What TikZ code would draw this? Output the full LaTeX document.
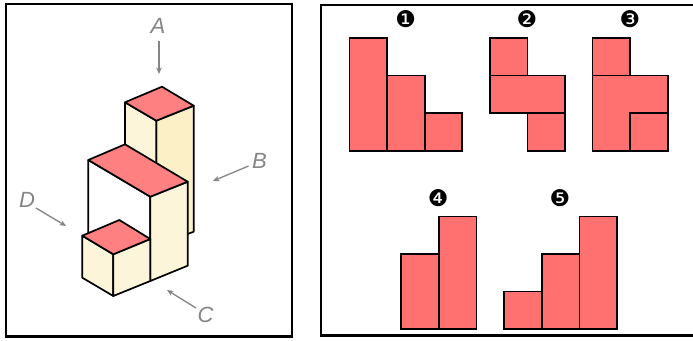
\documentclass[tikz,border=0pt]{standalone}
\usepackage{fontspec}
\setsansfont{Liberation Sans}
\newfontfamily\circfont{DejaVu Sans}
\usetikzlibrary{arrows.meta}
\definecolor{topred}{HTML}{FF8080}
\definecolor{flatred}{HTML}{FF7070}
\definecolor{sidelight}{HTML}{FDF5D9}
\definecolor{sidedark}{HTML}{FBF0C6}
\definecolor{arrowgray}{HTML}{858585}
\tikzset{
  framebox/.style={draw=black,line width=2.2pt,fill=white},
  topface/.style={draw=black,line width=1.7pt,line join=round,fill=topred},
  lightface/.style={draw=black,line width=1.7pt,line join=round,fill=sidelight},
  darkface/.style={draw=black,line width=1.7pt,line join=round,fill=sidedark},
  blankface/.style={draw=black,line width=1.7pt,line join=round,fill=white},
  flat/.style={draw=black,line width=1.6pt,line join=miter,fill=flatred},
  viewarrow/.style={draw=arrowgray,line width=1.3pt,-{Stealth[length=6.5pt,width=5.5pt]}},
  viewlabel/.style={text=arrowgray,font=\sffamily\itshape\fontsize{22}{22}\selectfont,inner sep=0pt},
  numlabel/.style={font=\circfont\fontsize{23}{23}\selectfont,inner sep=0pt}
}
\begin{document}
\begin{tikzpicture}[x=1pt,y=-1pt]
\useasboundingbox (0,0) rectangle (693,340);
\fill[white] (0,0) rectangle (693,340);
\draw[framebox] (6,4) rectangle (292,336.5);
\draw[framebox] (694,5) -- (321,5) -- (321,335.5) -- (694,335.5);
% tall block
\path[darkface] (156.3,120.7) -- (193.7,105.7) -- (193.7,231.7) -- (187.7,234) -- (156.3,234) -- cycle;
\path[lightface] (125,102.3) -- (156.3,120.7) -- (156.3,170) -- (125,150) -- cycle;
\path[topface] (125,102.3) -- (162,86.7) -- (193.7,105.7) -- (156.3,120.7) -- cycle;
% middle block
\path[blankface] (88.3,160) -- (150.3,196.7) -- (150.3,240) -- (88.3,240) -- cycle;
\path[lightface] (150.3,196.7) -- (187.7,181.7) -- (187.7,265.7) -- (150.3,281) -- cycle;
\path[topface] (88.3,160) -- (125,144.3) -- (187.7,181.7) -- (150.3,196.7) -- cycle;
% small cube
\path[lightface] (82.3,235.7) -- (113.3,254.3) -- (113.3,296) -- (82.3,277.7) -- cycle;
\path[lightface] (113.3,254.3) -- (150.3,239) -- (150.3,281) -- (113.3,296) -- cycle;
\path[topface] (82.3,235.7) -- (119.3,220) -- (150.3,239) -- (113.3,254.3) -- cycle;
% view labels and arrows
\node[viewlabel] (lA) at (158,26) {A};
\node[viewlabel] (lB) at (259.5,160.5) {B};
\node[viewlabel] (lC) at (205.5,315) {C};
\node[viewlabel] (lD) at (27,200) {D};
\coordinate (aAs) at (159,41); \coordinate (aAe) at (159,74);
\coordinate (aBs) at (248.5,166); \coordinate (aBe) at (213,181);
\coordinate (aCs) at (196,308); \coordinate (aCe) at (167,290);
\coordinate (aDs) at (36,208); \coordinate (aDe) at (66,226);
\draw[viewarrow] (aAs) -- (aAe);
\draw[viewarrow] (aBs) -- (aBe);
\draw[viewarrow] (aCs) -- (aCe);
\draw[viewarrow] (aDs) -- (aDe);
% numbers
\node[numlabel] (n1) at (405.7,19) {❶};
\node[numlabel] (n2) at (527,19) {❷};
\node[numlabel] (n3) at (630,19) {❸};
\node[numlabel] (n4) at (438.3,198.3) {❹};
\node[numlabel] (n5) at (560,198.3) {❺};
% option 1
\path[flat] (349.3,37.7) rectangle (387,150.7);
\path[flat] (387,75.3) rectangle (424.7,150.7);
\path[flat] (424.7,113) rectangle (462,150.7);
% option 2
\path[flat] (489.7,37.7) rectangle (527.3,75.3);
\path[flat] (489.7,75.3) rectangle (565,113);
\path[flat] (527.3,113) rectangle (565,150.7);
% option 3
\path[flat] (592.3,37.7) rectangle (630,75.3);
\path[flat] (592.3,75.3) -- (667.7,75.3) -- (667.7,113) -- (630,113) -- (630,150.7) -- (592.3,150.7) -- cycle;
\path[flat] (630,113) rectangle (667.7,150.7);
% option 4
\path[flat] (401,253.7) rectangle (438.7,328.7);
\path[flat] (438.7,216.3) rectangle (476.3,328.7);
% option 5
\path[flat] (504,291.3) rectangle (541.7,328.7);
\path[flat] (541.7,253.7) rectangle (579.3,328.7);
\path[flat] (579.3,216.3) rectangle (617,328.7);
\end{tikzpicture}
\end{document}
